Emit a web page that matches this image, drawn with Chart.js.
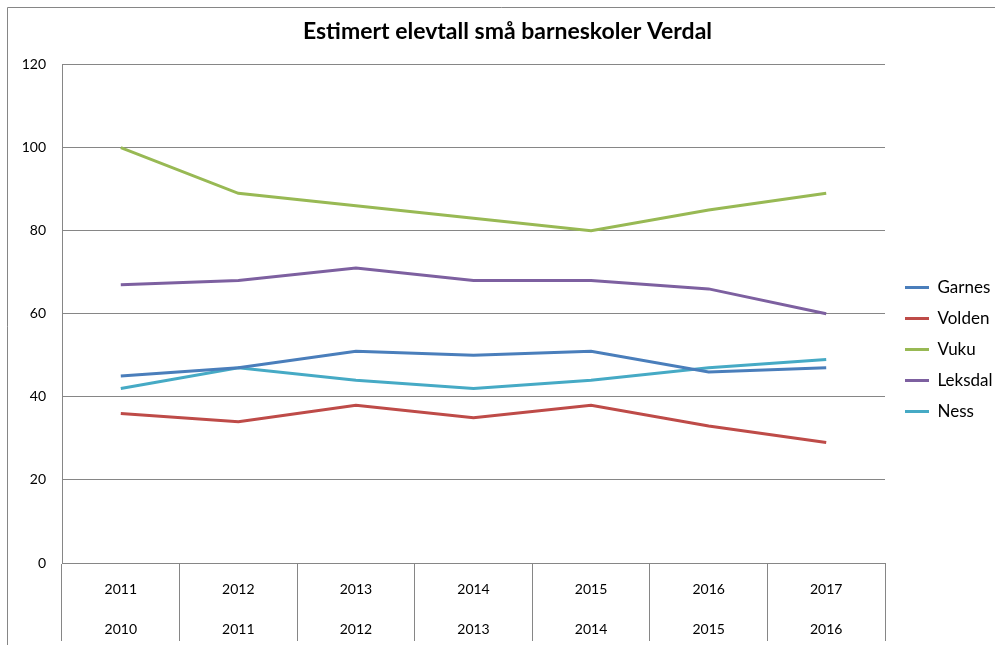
<!DOCTYPE html>
<html>
<head>
<meta charset="utf-8">
<script src="https://cdn.jsdelivr.net/npm/chart.js@4"></script>
<style>
  html, body { margin: 0; padding: 0; background: #fff; }
  #wrap { width: 995px; height: 645px; }
</style>
</head>
<body>
<div id="wrap"><canvas id="elev_chart" width="995" height="645"></canvas></div>
<script>
// data
const years = ["2011", "2012", "2013", "2014", "2015", "2016", "2017"];
const prevYears = ["2010", "2011", "2012", "2013", "2014", "2015", "2016"];

const garnes = [45, 47, 51, 50, 51, 46, 47];
const volden = [36, 34, 38, 35, 38, 33, 29];
const vuku = [100, 89, 86, 83, 80, 85, 89];
const leksdal = [67, 68, 71, 68, 68, 66, 60];
const ness = [42, 47, 44, 42, 44, 47, 49];

const yTicks = [0, 20, 40, 60, 80, 100, 120];

const gridGrey = "#868686";
const font = "Lato, 'Open Sans', sans-serif";

const labels = years.map((y, i) => [y, prevYears[i]]);

const line = (name, data, color) => ({
  label: name,
  data: data,
  borderColor: color,
  backgroundColor: color,
  borderWidth: 3,
  pointRadius: 0,
  pointHoverRadius: 0,
  tension: 0,
  fill: false,
  pointStyle: "line",
});

// outer frame, like the excel chart area border
const frame = {
  id: "frame",
  beforeDraw(chart) {
    const ctx = chart.ctx;
    ctx.save();
    ctx.fillStyle = "#fff";
    ctx.fillRect(0, 0, chart.width, chart.height);
    ctx.strokeStyle = gridGrey;
    ctx.lineWidth = 1;
    ctx.beginPath();
    ctx.moveTo(7.5, chart.height);
    ctx.lineTo(7.5, 7.5);
    ctx.lineTo(chart.width, 7.5);
    ctx.stroke();
    ctx.restore();
  },
};

// nudge legend and title so they sit where excel put them
const boxNudge = {
  id: "boxNudge",
  afterLayout(chart) {
    const lg = chart.legend;
    if (lg) {
      lg.left += 6;
      lg.right += 6;
      lg.top += 27;
      lg.bottom += 27;
    }
    const tb = chart.titleBlock;
    if (tb) {
      tb.left += 10;
      tb.right += 10;
    }
  },
};

const ctx = document.getElementById("elev_chart").getContext("2d");
const myChart = new Chart(ctx, {
  type: "line",
  data: {
    labels: labels,
    datasets: [
      line("Garnes", garnes, "#4A7EBB"),
      line("Volden", volden, "#BE4B48"),
      line("Vuku", vuku, "#98B954"),
      line("Leksdal", leksdal, "#7D60A0"),
      line("Ness", ness, "#46AAC5"),
    ],
  },
  options: {
    responsive: false,
    animation: false,
    layout: { padding: { left: 0, right: 0, top: 0, bottom: 0 } },
    scales: {
      x: {
        type: "category",
        offset: true,
        grid: {
          offset: true,
          drawOnChartArea: false,
          drawTicks: true,
          tickLength: 78,
          color: gridGrey,
          lineWidth: 1,
        },
        border: { display: true, color: gridGrey },
        ticks: {
          color: "#000",
          padding: -72,
          maxRotation: 0,
          autoSkip: false,
          font: { family: font, size: 14, lineHeight: 40 / 14 },
        },
        afterFit(scale) {
          scale.height = 82;
        },
      },
      y: {
        min: 0,
        max: 120,
        afterBuildTicks(scale) {
          scale.ticks = yTicks.map((v) => ({ value: v }));
        },
        grid: { color: gridGrey, lineWidth: 1, drawTicks: false },
        border: { display: true, color: gridGrey },
        ticks: {
          color: "#000",
          padding: 16,
          font: { family: font, size: 14 },
        },
        afterFit(scale) {
          scale.width = 62;
        },
      },
    },
    plugins: {
      title: {
        display: true,
        text: "Estimert elevtall små barneskoler Verdal",
        color: "#000",
        font: { family: font, size: 23, weight: "bold" },
        padding: { top: 18, bottom: 19 },
      },
      legend: {
        position: "right",
        maxWidth: 110,
        labels: {
          usePointStyle: true,
          pointStyleWidth: 24,
          padding: 14,
          color: "#000",
          font: { family: font, size: 17 },
        },
      },
      tooltip: { enabled: false },
    },
  },
  plugins: [frame, boxNudge],
});
</script>
</body>
</html>
